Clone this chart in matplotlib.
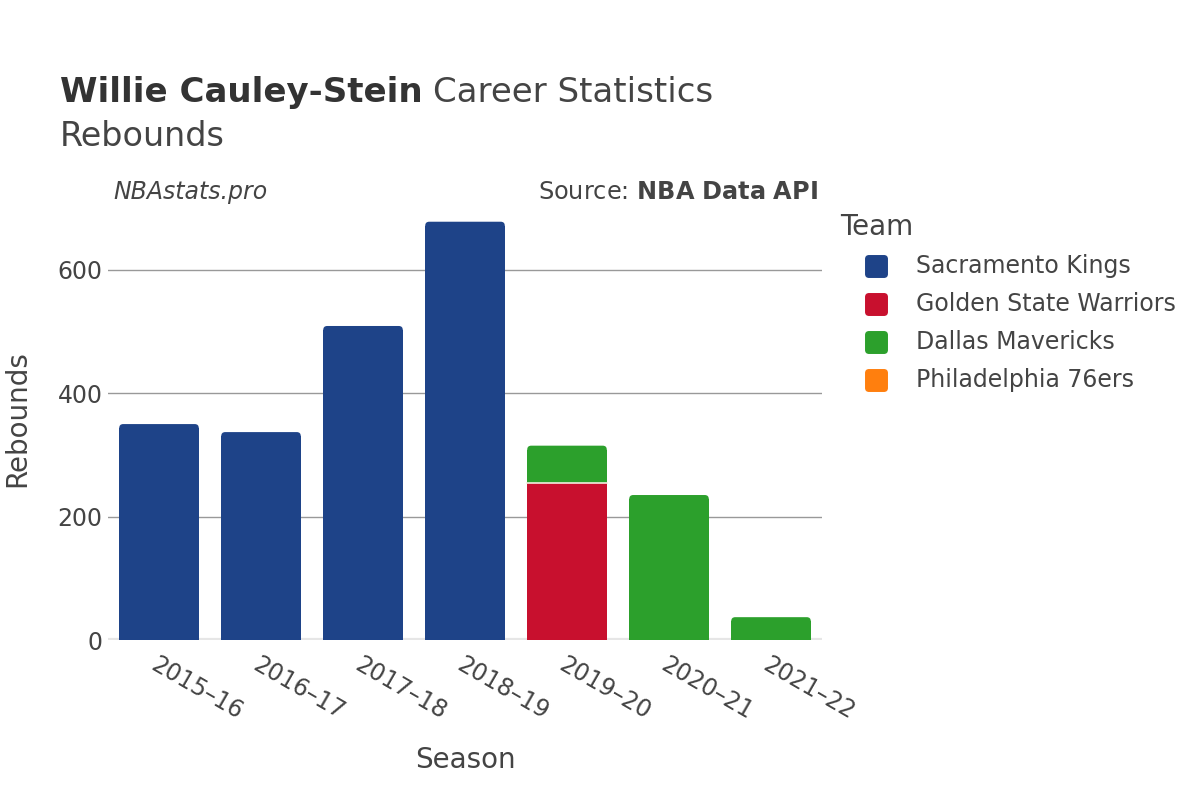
import matplotlib
matplotlib.use("Agg")
import matplotlib.pyplot as plt
from matplotlib.patches import FancyBboxPatch
from matplotlib.lines import Line2D
from matplotlib.markers import MarkerStyle
import numpy as np

seasons = ["2015–16", "2016–17", "2017–18", "2018–19", "2019–20", "2020–21", "2021–22"]
teams = ["Sacramento Kings", "Golden State Warriors", "Dallas Mavericks", "Philadelphia 76ers"]
colors = ["#1e4388", "#c8102e", "#2ca02c", "#ff7f0e"]
kings = [350, 337, 509, 678, 0, 0, 0]
warriors = [0, 0, 0, 0, 255, 0, 0]
mavericks = [0, 0, 0, 0, 60, 235, 37]
sixers = [0, 0, 0, 0, 0, 0, 0]
series = [kings, warriors, mavericks, sixers]

TXT = "#444444"
plt.rcParams['font.family'] = ['DejaVu Sans']
fig = plt.figure(figsize=(12, 8), dpi=100)
ax = fig.add_axes([0.09, 0.2, 0.595, 0.5375])

ax.set_xlim(-0.5, 6.5)
ax.set_ylim(0, 697)

x = np.arange(len(seasons))
bw = 0.78
totals = np.sum(np.array(series, dtype=float), axis=0)
# rounding radius ~4 px
rx = 4 / 102.0
ry = 4 / (430 / 697.0)
bottom = np.zeros(len(seasons))
for vals, c in zip(series, colors):
    v = np.array(vals, dtype=float)
    for i in range(len(seasons)):
        if v[i] <= 0:
            continue
        top = bottom[i] + v[i]
        is_top = np.isclose(top, totals[i])
        if is_top and v[i] > ry:
            ax.bar(x[i], v[i] - ry, bw, bottom=bottom[i], color=c, linewidth=0, zorder=3)
            p = FancyBboxPatch((x[i] - bw / 2, bottom[i]), bw, v[i],
                               boxstyle=f"round,pad=0,rounding_size={rx}",
                               mutation_aspect=ry / rx, facecolor=c, edgecolor="none", zorder=3)
            ax.add_patch(p)
        else:
            ax.bar(x[i], v[i], bw, bottom=bottom[i], color=c, linewidth=0, zorder=3)
        if bottom[i] > 0:
            ax.plot([x[i] - bw / 2, x[i] + bw / 2], [bottom[i], bottom[i]], color="#f2efe0",
                    linewidth=1.2, zorder=4)
    bottom += v

ax.set_yticks([0, 200, 400, 600])
ax.yaxis.grid(True, color="#999999", linewidth=1, zorder=0)
ax.axhline(0, color="#e6e6e6", linewidth=3, zorder=2)
for s in ax.spines.values():
    s.set_visible(False)
ax.tick_params(axis="both", length=0, labelsize=17, colors=TXT)
ax.tick_params(axis="y", pad=4)
ax.set_xticks(x)
ax.set_xticklabels(seasons, rotation=-30, ha="left", va="top", rotation_mode="anchor")
ax.tick_params(axis="x", pad=9)

fig.text(465 / 1200, 1 - 760 / 800, "Season", fontsize=20, color=TXT, ha="center", va="center")
fig.text(17 / 1200, 1 - 419 / 800, "Rebounds", fontsize=20, color=TXT, ha="center", va="center",
         rotation=90)

t1 = fig.text(0.05, 0.872, "Willie Cauley-Stein", fontsize=24.5, fontweight="bold", color="#333333",
              va="baseline")
fig.canvas.draw()
r = fig.canvas.get_renderer()
bb = t1.get_window_extent(r)
fig.text((bb.x1 + 10) / 1200, 0.872, "Career Statistics", fontsize=24.5, color=TXT, va="baseline")
fig.text(0.05, 0.817, "Rebounds", fontsize=24, color=TXT, va="baseline")
fig.text(113 / 1200, 0.751, "NBAstats.pro", fontsize=17, style="italic", color=TXT, va="baseline")
fig.text(818 / 1200, 0.751, "Source: $\\bf{NBA\\ Data\\ API}$", fontsize=17.3, color=TXT,
         va="baseline", ha="right")

# legend
fig.text(840 / 1200, 1 - 227 / 800, "Team", fontsize=20, color=TXT, va="center", ha="left")
for k, (name, c) in enumerate(zip(teams, colors)):
    yy = 1 - (266 + 38 * k) / 800
    fig.add_artist(Line2D([876 / 1200], [yy], transform=fig.transFigure, linestyle="none",
                          marker=MarkerStyle("s", joinstyle="round"), markersize=12,
                          markerfacecolor=c, markeredgecolor=c, markeredgewidth=5))
    fig.text(916 / 1200, yy, name, fontsize=17, color=TXT, va="center", ha="left")

fig.savefig("out.png", dpi=100)
